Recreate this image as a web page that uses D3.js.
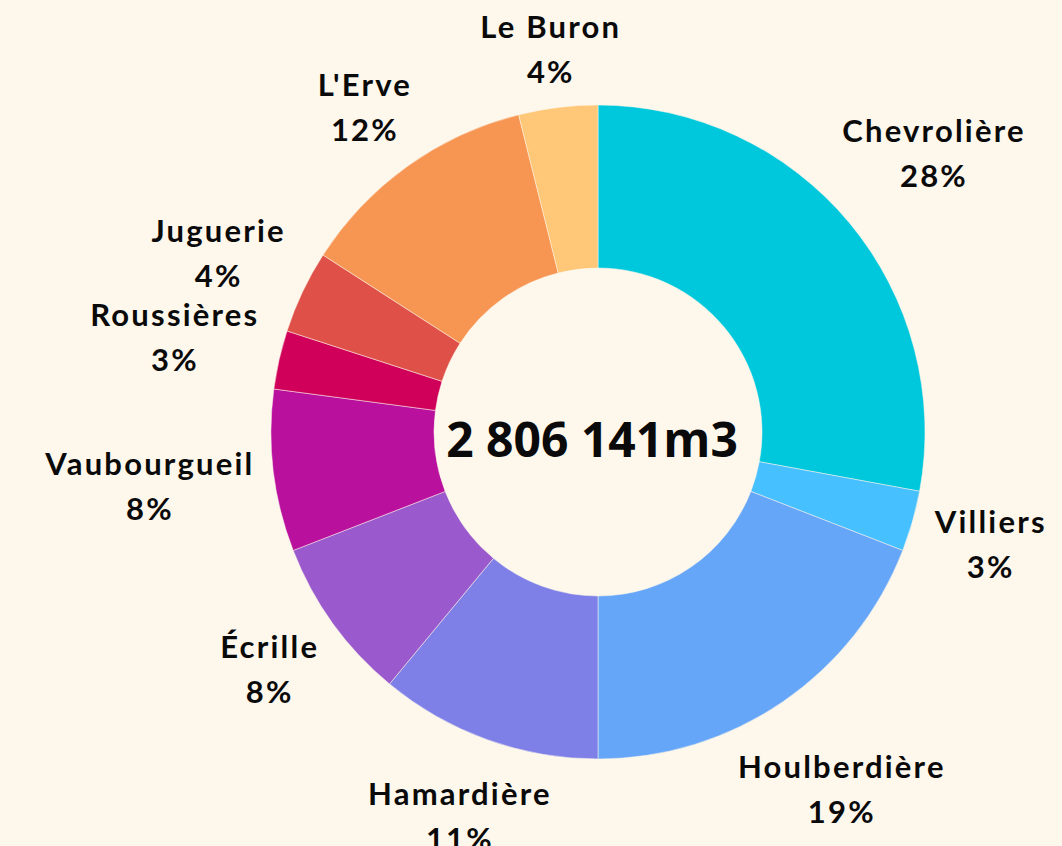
<!DOCTYPE html>
<html>
<head>
    <script src="https://cdnjs.cloudflare.com/ajax/libs/d3/7.8.5/d3.min.js"></script>
    <style>
        html, body {
            margin: 0;
            padding: 0;
            background: #fdf7ec;
        }
        svg {
            display: block;
        }
        .label {
            font-family: Lato, "Open Sans", sans-serif;
            font-weight: 700;
            font-size: 31px;
            letter-spacing: 2.2px;
            fill: #0a0a0a;
        }
        .total {
            font-family: "Open Sans", sans-serif;
            font-weight: 700;
            font-size: 48px;
            fill: #0a0a0a;
        }
    </style>
</head>
<body>
    <svg id="chart" width="1062" height="846"></svg>

    <script>
        // sites, clockwise from 12 o'clock
        const sites = ["Chevrolière", "Villiers", "Houlberdière", "Hamardière", "Écrille",
                       "Vaubourgueil", "Roussières", "Juguerie", "L'Erve", "Le Buron"];
        // share of total volume (%)
        const shares = [27.9, 3.0, 19.1, 11.0, 8.1, 8.0, 2.9, 4.1, 12.0, 3.9];
        const colors = ["#00c8dc", "#47c0ff", "#66a6f8", "#7e80e8", "#9a5acd",
                        "#b9109e", "#d0005a", "#df5048", "#f79552", "#ffc878"];
        const totalLabel = "2 806 141m3";

        const width = 1062, height = 846;
        const cx = 598, cy = 432;
        const outerR = 327, innerR = 164;
        const labelOffset = 12;
        const lineGap = 45;

        const svg = d3.select("#chart");
        const g = svg.append("g").attr("transform", `translate(${cx},${cy})`);

        const total = d3.sum(shares);
        const pie = d3.pie().sort(null).value(d => d);
        const arcs = pie(shares);

        const arc = d3.arc().innerRadius(innerR).outerRadius(outerR);
        const color = d3.scaleOrdinal().domain(sites).range(colors);

        // slices
        g.selectAll("path.slice")
            .data(arcs)
            .enter().append("path")
            .attr("class", "slice")
            .attr("d", arc)
            .attr("fill", (d, i) => color(sites[i]))
            .attr("stroke", "#fdf7ec")
            .attr("stroke-opacity", 0.5)
            .attr("stroke-width", 1);

        // labels: placed just outside the ring, pushed out by the box size
        arcs.forEach((d, i) => {
            const a = (d.startAngle + d.endAngle) / 2;
            const dx = Math.sin(a), dy = -Math.cos(a);

            const lab = g.append("text").attr("class", "label").attr("text-anchor", "middle");
            lab.append("tspan").attr("x", 0).attr("dy", 0).text(sites[i]);
            lab.append("tspan").attr("x", 0).attr("dy", lineGap)
                .text(Math.round(shares[i] / total * 100) + "%");

            const box = lab.node().getBBox();
            const hw = box.width / 2 + 4;
            const hh = box.height / 2 - 3;
            const r = outerR + labelOffset + Math.abs(dx) * hw + Math.abs(dy) * hh;
            const x = dx * r, y = dy * r;
            // shift so the text block is centred on (x, y)
            const midX = box.x + box.width / 2;
            const midY = box.y + box.height / 2;
            lab.attr("transform", `translate(${x - midX},${y - midY})`);
        });

        // total in the hole
        g.append("text")
            .attr("class", "total")
            .attr("text-anchor", "middle")
            .attr("x", -6)
            .attr("y", 25)
            .text(totalLabel);
    </script>
</body>
</html>
